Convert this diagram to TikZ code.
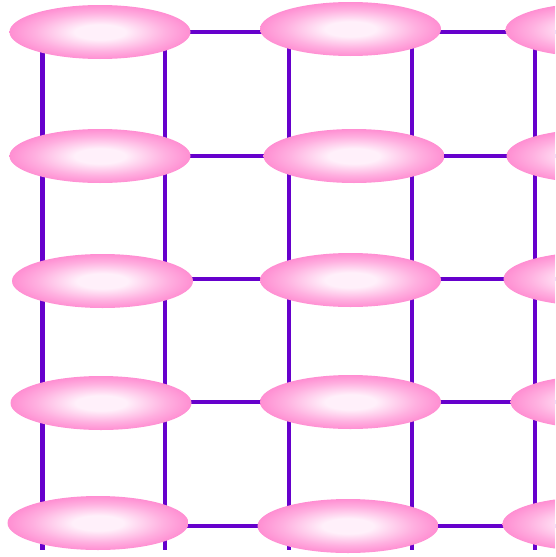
\documentclass[tikz,border=0pt]{standalone}
\usetikzlibrary{shapes.geometric}
\definecolor{gridpurple}{HTML}{6600CC}
\definecolor{pinkin}{HTML}{FFF0FA}
\definecolor{pinkmid}{HTML}{FFB0E0}
\definecolor{pinkmid2}{HTML}{FF80CC}
\definecolor{pinkout}{HTML}{FF5CBE}
\pgfdeclareradialshading{pinkball}{\pgfpoint{0bp}{0bp}}{%
  color(0bp)=(pinkin); color(7bp)=(pinkin); color(18bp)=(pinkmid);
  color(28bp)=(pinkmid2); color(35bp)=(pinkout); color(50bp)=(pinkout)}
\tikzset{
  gridline/.style={draw=gridpurple, line width=4.6pt},
  blob/.style={ellipse, minimum width=181pt, minimum height=54pt,
    inner sep=0pt, draw=none, shading=pinkball}
}
\begin{document}
\begin{tikzpicture}[x=1pt,y=-1pt]
\useasboundingbox (0,0) rectangle (555,557);
\clip (0,0) rectangle (555,557);
% node positions
\foreach \n/\x/\y in {a1/100/32, a2/100/156, a3/102.5/281, a4/101/403, a5/98/523,
                      b1/350.5/29, b2/354/156, b3/350.5/280, b4/350.5/402, b5/348/526,
                      c1/596/30, c2/597/156, c3/594/279, c4/601/402, c5/593/524}
  \coordinate (p\n) at (\x,\y);
% vertical line ends
\foreach \i/\x in {1/42.5, 2/165, 3/289, 4/412, 5/535} {
  \coordinate (vt\i) at (\x,32);
  \coordinate (vb\i) at (\x,550);
}
% horizontal row line ends
\foreach \i/\y in {1/32, 2/156, 3/279, 4/402, 5/526} {
  \coordinate (hl\i) at (100,\y);
  \coordinate (hr\i) at (600,\y);
}
\foreach \i in {1,...,5} {
  \draw[gridline] (vt\i) -- (vb\i);
  \draw[gridline] (hl\i) -- (hr\i);
}
\foreach \n in {a1,a2,a3,a4,a5,b1,b2,b3,b4,b5,c1,c2,c3,c4,c5}
  \node[blob] (\n) at (p\n) {};
\end{tikzpicture}
\end{document}
